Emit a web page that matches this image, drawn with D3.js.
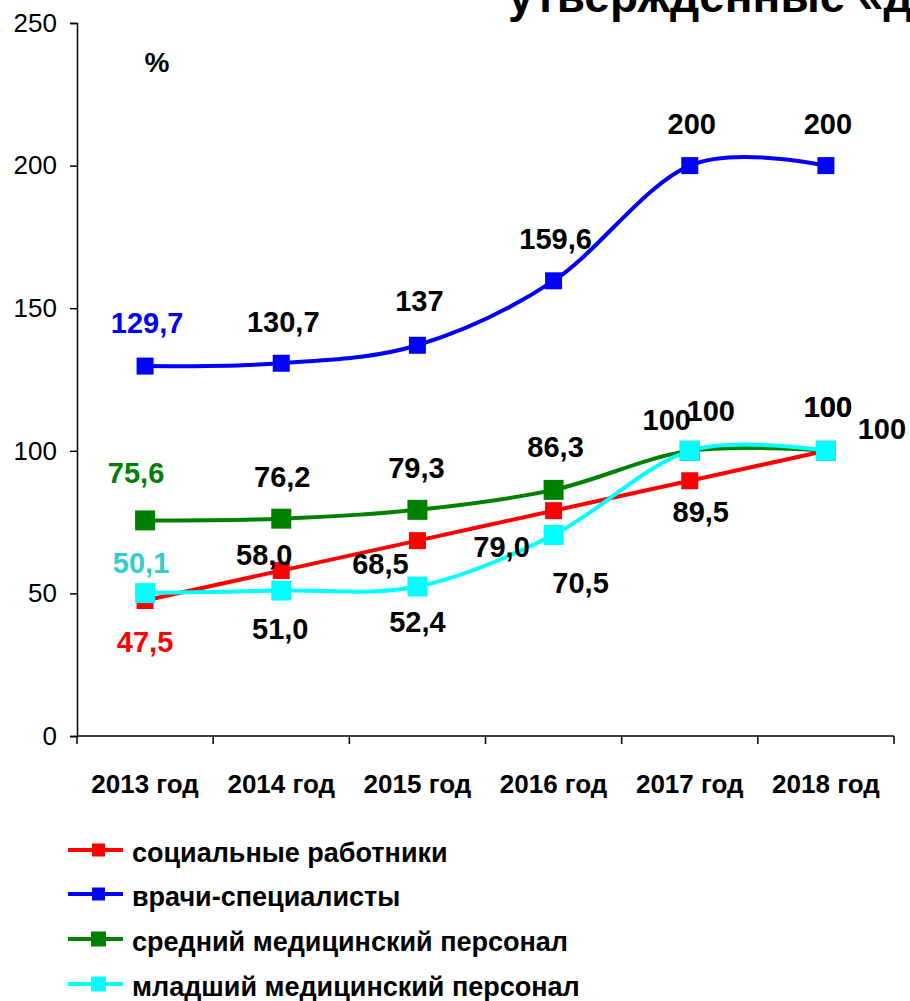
<!DOCTYPE html>
<html>
<head>
<meta charset="utf-8">
<script src="https://cdn.jsdelivr.net/npm/d3@7"></script>
<style>
  html, body { margin: 0; padding: 0; background: #fff; }
  svg { display: block; }
  text { font-family: Arial, "Liberation Sans", sans-serif; }
</style>
</head>
<body>
<svg id="chart" width="910" height="1001"></svg>
<script>
// ---- data ----
const years = ["2013 год", "2014 год", "2015 год", "2016 год", "2017 год", "2018 год"];
const socialWorkers = [47.5, 58.0, 68.5, 79.0, 89.5, 100];
const doctors = [129.7, 130.7, 137, 159.6, 200, 200];
const middleStaff = [75.6, 76.2, 79.3, 86.3, 100, 100];
const juniorStaff = [50.1, 51.0, 52.4, 70.5, 100, 100];
const seriesNames = ["социальные работники", "врачи-специалисты", "средний медицинский персонал", "младший медицинский персонал"];
const yTicks = [0, 50, 100, 150, 200, 250];
const titleText = "утвержденные «д";
const unitText = "%";

// ---- styling / layout (not data) ----
const series = [
  { name: seriesNames[0], values: socialWorkers, color: "#ff0000", firstLabel: "#ff0000", size: 17, smooth: true,
    off: [[0, 41], [-17, -16], [-37, 23], [-52, 36], [11, 31], [56, -22]] },
  { name: seriesNames[1], values: doctors, color: "#0000ff", firstLabel: "#0000ff", size: 17, smooth: true,
    off: [[2, -43], [2, -41], [2, -44], [2, -42], [2, -42], [2, -42]] },
  { name: seriesNames[2], values: middleStaff, color: "#008000", firstLabel: "#008000", size: 20, smooth: true,
    off: [[-9, -47], [1, -42], [-1, -42], [2, -43], [-23, -31], [2, -44]] },
  { name: seriesNames[3], values: juniorStaff, color: "#00ffff", firstLabel: "#33cccc", size: 20, smooth: true,
    off: [[-4, -30], [-1, 38], [0, 35], [27, 48], [21, -40], [2, -44]] }
];
// draw order: red under others like the reference (cyan on top)
const drawOrder = [0, 1, 2, 3];

const svg = d3.select("#chart");

const x = d3.scaleBand().domain(years).range([77, 894]).padding(0);
const y = d3.scaleLinear().domain([0, 250]).range([736, 23]);
const cx = d => x(d) + x.bandwidth() / 2;

// title (cut off at the top, as in reference)
svg.append("text")
  .attr("x", 508).attr("y", 12)
  .attr("font-size", 46).attr("font-weight", "bold")
  .attr("fill", "#000")
  .text(titleText);

// y axis
const yAxis = svg.append("g")
  .attr("transform", "translate(77,0)")
  .call(d3.axisLeft(y).tickValues(yTicks).tickSize(7).tickPadding(13).tickFormat(d3.format("d")));
yAxis.select(".domain").attr("stroke", "#000").attr("stroke-width", 1.5);
yAxis.selectAll(".tick line").attr("stroke", "#000").attr("stroke-width", 1.5);
yAxis.selectAll(".tick text").attr("font-size", 26).attr("fill", "#000")
  .attr("font-family", "Arial, 'Liberation Sans', sans-serif");

// x axis: domain + ticks at band edges
const xg = svg.append("g");
xg.append("line")
  .attr("x1", x.range()[0]).attr("x2", x.range()[1])
  .attr("y1", y(0)).attr("y2", y(0))
  .attr("stroke", "#000").attr("stroke-width", 1.5);
const edges = years.map(d => x(d)).concat([x.range()[1]]);
xg.selectAll("line.tk").data(edges).enter().append("line")
  .attr("class", "tk")
  .attr("x1", d => d).attr("x2", d => d)
  .attr("y1", y(0)).attr("y2", y(0) + 8)
  .attr("stroke", "#000").attr("stroke-width", 1.5);
xg.selectAll("text").data(years).enter().append("text")
  .attr("x", d => cx(d)).attr("y", 793)
  .attr("text-anchor", "middle")
  .attr("font-size", 26).attr("font-weight", "bold")
  .attr("fill", "#000")
  .text(d => d);

// unit label
svg.append("text")
  .attr("x", 157).attr("y", 72)
  .attr("text-anchor", "middle")
  .attr("font-size", 28).attr("font-weight", "bold")
  .text(unitText);

// lines
const lineGen = d3.line()
  .x((d, i) => cx(years[i]))
  .y(d => y(d))
  .curve(d3.curveCardinal.tension(0));

drawOrder.forEach(si => {
  const s = series[si];
  svg.append("path")
    .datum(s.values)
    .attr("d", lineGen)
    .attr("fill", "none")
    .attr("stroke", s.color)
    .attr("stroke-width", 4)
    .attr("stroke-linejoin", "round");
});

// markers
drawOrder.forEach(si => {
  const s = series[si];
  svg.append("g").selectAll("rect").data(s.values).enter().append("rect")
    .attr("x", (d, i) => cx(years[i]) - s.size / 2)
    .attr("y", d => y(d) - s.size / 2)
    .attr("width", s.size).attr("height", s.size)
    .attr("fill", s.color);
});

// value labels
const fmt = v => (Number.isInteger(v) && v >= 100) ? String(v) : v.toFixed(1).replace(".", ",");
drawOrder.forEach(si => {
  const s = series[si];
  svg.append("g").selectAll("text").data(s.values).enter().append("text")
    .attr("x", (d, i) => cx(years[i]) + s.off[i][0])
    .attr("y", (d, i) => y(d) + s.off[i][1] + 10)
    .attr("text-anchor", "middle")
    .attr("font-size", 29).attr("font-weight", "bold")
    .attr("fill", (d, i) => i === 0 ? s.firstLabel : "#000")
    .text(d => fmt(d));
});

// legend
const legendY = [850, 894, 939, 984];
const lg = svg.append("g");
series.forEach((s, i) => {
  const g = lg.append("g").attr("transform", `translate(0,${legendY[i]})`);
  g.append("line").attr("x1", 68).attr("x2", 123).attr("y1", 0).attr("y2", 0)
    .attr("stroke", s.color).attr("stroke-width", 4);
  const ms = i >= 2 ? 15 : 13;
  g.append("rect").attr("x", 98.5 - ms / 2).attr("y", -ms / 2).attr("width", ms).attr("height", ms)
    .attr("fill", s.color);
  g.append("text").attr("x", 132).attr("y", 12)
    .attr("font-size", 27).attr("font-weight", "bold").attr("fill", "#000")
    .text(s.name);
});
</script>
</body>
</html>
